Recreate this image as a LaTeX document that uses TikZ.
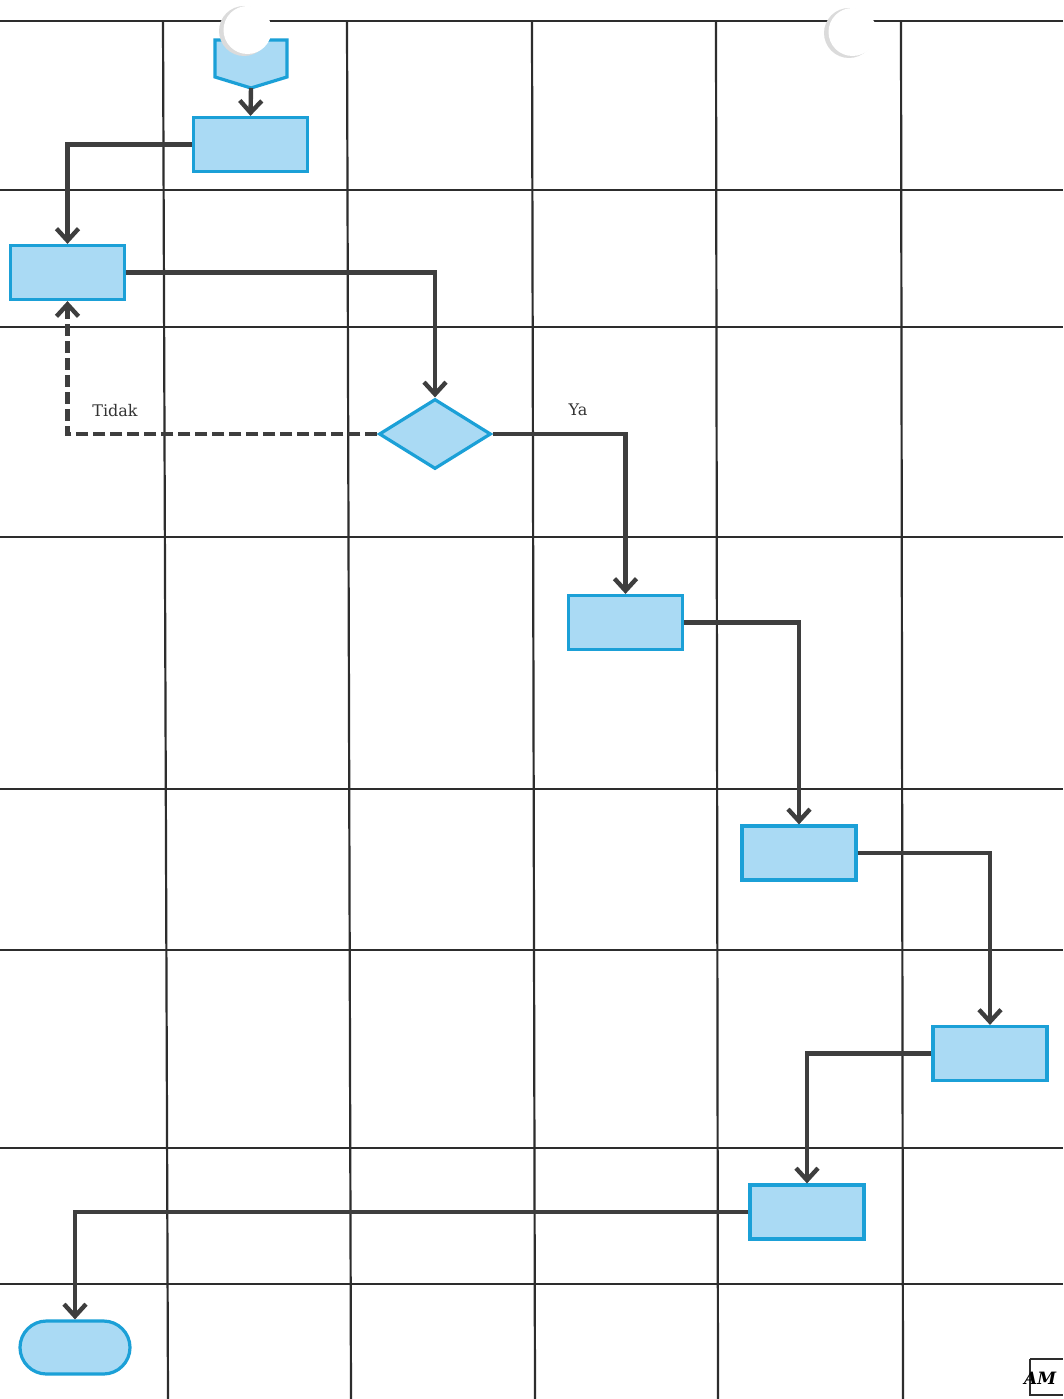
\documentclass[tikz,border=0pt]{standalone}
\usepackage{fontspec}
\setmainfont{DejaVu Serif}
\usetikzlibrary{arrows.meta,shapes.geometric,shapes.misc}
\definecolor{boxfill}{RGB}{170,218,244}
\definecolor{boxline}{RGB}{27,160,215}
\definecolor{conn}{RGB}{62,62,62}
\definecolor{gridc}{RGB}{45,45,45}
\tikzset{
  gridline/.style={gridc, line width=2.2pt},
  procbox/.style={draw=boxline, fill=boxfill, line width=3.2pt, minimum width=114pt, minimum height=54pt, inner sep=0pt},
  decbox/.style={draw=boxline, fill=boxfill, line width=3.2pt, diamond, minimum width=112pt, minimum height=70pt, inner sep=0pt, aspect=1.58},
  termbox/.style={draw=boxline, fill=boxfill, line width=3.2pt, rounded rectangle, minimum width=110pt, minimum height=53pt, inner sep=0pt},
  flow/.style={conn, line width=4.4pt, -{Straight Barb[length=12pt,width=22pt,line width=4.4pt]}},
  flowdash/.style={flow, dash pattern=on 12pt off 5pt},
  lbl/.style={font=\fontsize{16}{18}\selectfont, text=black!80},
  hole/.style={fill=white, draw=none}
}
\begin{document}
\begin{tikzpicture}[x=1pt,y=-1pt]
\useasboundingbox (0,0) rectangle (1063,1399);
\fill[white] (0,0) rectangle (1063,1399);
% grid
\foreach \y in {21,190,327,537,789,950,1148,1284} \draw[gridline] (0,\y) -- (1063,\y);
\draw[gridline] (163,21) -- (168,1399);
\draw[gridline] (347,21) -- (351,1399);
\draw[gridline] (532,21) -- (535,1399);
\draw[gridline] (716,21) -- (718,1399);
\draw[gridline] (901,21) -- (903,1399);
% nodes
\coordinate (s1) at (251,88);
\node[procbox] (b1) at (250.5,144.5) {};
\node[procbox] (b2) at (67.5,272.5) {};
\node[decbox] (d) at (435,434) {};
\node[procbox] (b3) at (625.5,622.5) {};
\node[procbox] (b4) at (799,853) {};
\node[procbox] (b5) at (990,1053.5) {};
\node[procbox] (b6) at (807,1212) {};
\node[termbox] (t) at (75,1347.5) {};
% start shape (off-page connector)
\draw[draw=boxline, fill=boxfill, line width=3.2pt, line join=miter] (215,40) -- (287,40) -- (287,77) -- (s1) -- (215,77) -- cycle;
% hole punches
\fill[black!14] (244,31) circle (25);
\fill[hole] (247.5,30) circle (24);
\fill[black!14] (849,33) circle (25);
\fill[hole] (852.5,32) circle (24);
% connectors
\draw[flow] (s1) -- (b1.north);
\draw[flow] (b1.west) -| (b2.north);
\draw[flow] (b2.east) -| (d.north);
\draw[flowdash] (d.west) -| (b2.south);
\draw[flow] (d.east) -| (b3.north);
\draw[flow] (b3.east) -| (b4.north);
\draw[flow] (b4.east) -| (b5.north);
\draw[flow] (b5.west) -| (b6.north);
\draw[flow] (b6.west) -| (t.north);
% labels
\node[lbl] (ltidak) at (115,411) {Tidak};
\node[lbl] (lya) at (578,410) {Ya};
% corner mark
\draw[gridc, line width=1.4pt] (1030,1359) -- (1063,1359) (1030,1359) -- (1030,1395) -- (1063,1395);
\node[font=\fontsize{17}{18}\selectfont\itshape\bfseries, anchor=west, inner sep=0pt] (am) at (1024,1378) {AM};
\end{tikzpicture}
\end{document}
